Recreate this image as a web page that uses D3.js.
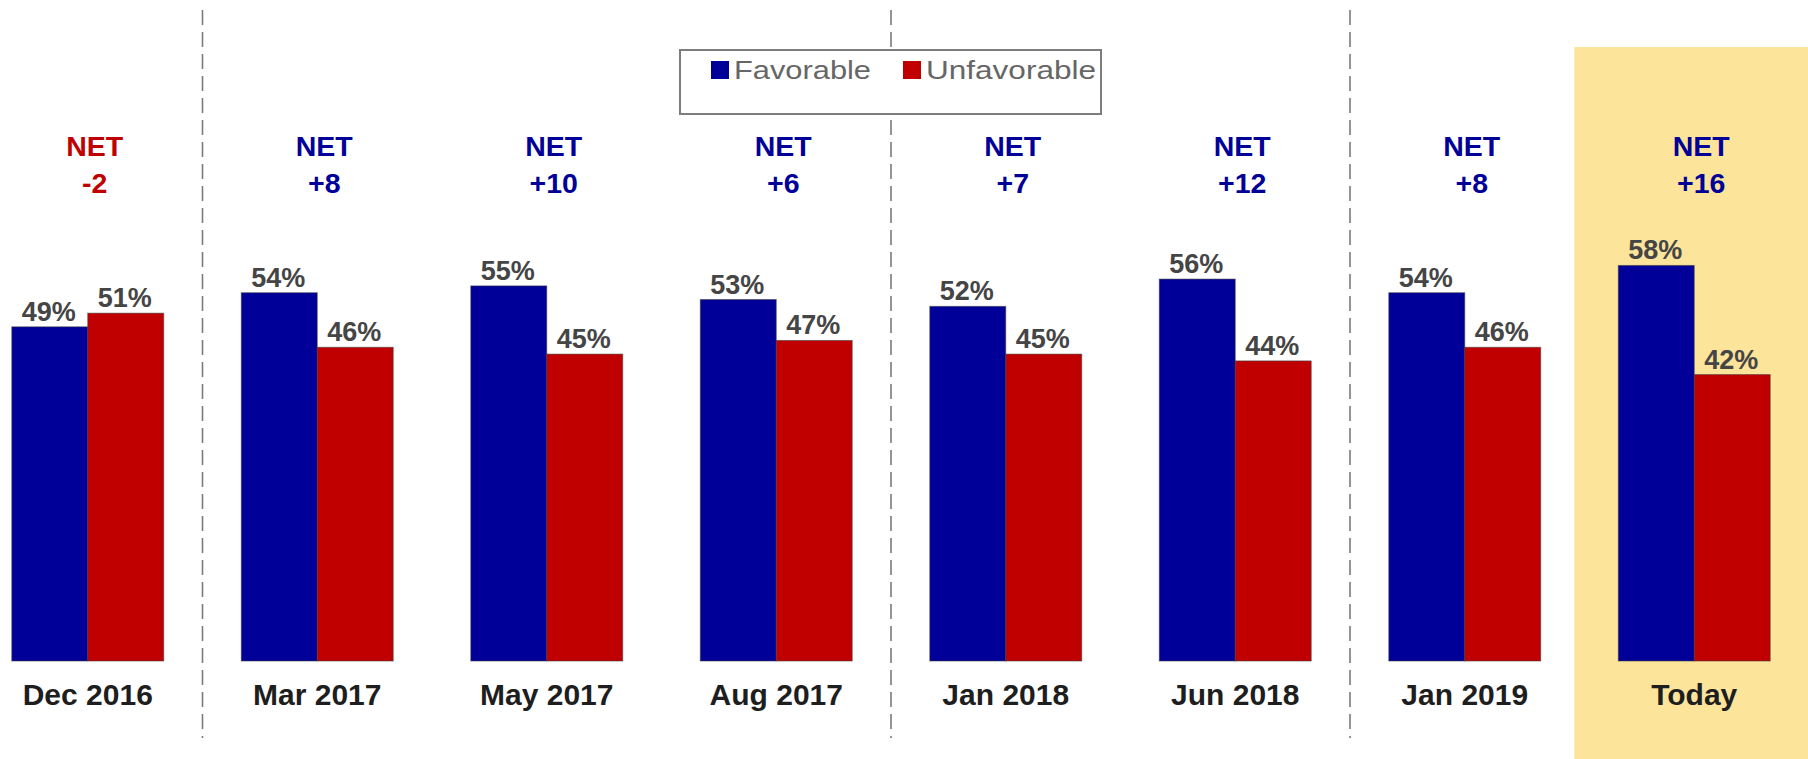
<!DOCTYPE html>
<html>
<head>
<meta charset="utf-8">
<script src="https://cdn.jsdelivr.net/npm/d3@7"></script>
<style>
  html, body { margin: 0; padding: 0; background: #fff; }
  svg { display: block; font-family: "Liberation Sans", Arial, sans-serif; }
</style>
</head>
<body>
<div id="chart"></div>
<script>
(function (d3) {
    'use strict';

    // data
    var periods = ["Dec 2016", "Mar 2017", "May 2017", "Aug 2017", "Jan 2018", "Jun 2018", "Jan 2019", "Today"];
    var series = ["Favorable", "Unfavorable"];
    var favorable = [49, 54, 55, 53, 52, 56, 54, 58];
    var unfavorable = [51, 46, 45, 47, 45, 44, 46, 42];
    var dividersAfter = ["Dec 2016", "Aug 2017", "Jun 2018"];
    var highlighted = "Today";

    var svgWidth = 1808;
    var svgHeight = 759;
    var blue = "#000099";
    var red = "#c00000";

    var rows = periods.map(function (p, i) {
        return { period: p, Favorable: favorable[i], Unfavorable: unfavorable[i] };
    });

    var svg = d3.select("#chart")
        .append("svg")
        .attr("width", svgWidth)
        .attr("height", svgHeight);

    // scales
    var x0 = d3.scaleBand()
        .domain(periods)
        .range([-27, 1809])
        .paddingInner(0.338)
        .paddingOuter(0.169);

    var x1 = d3.scaleBand()
        .domain(series)
        .range([0, x0.bandwidth()]);

    var y = d3.scaleLinear()
        .domain([0, 100])
        .range([661, -21]);

    var color = d3.scaleOrdinal()
        .domain(series)
        .range([blue, red]);

    var gap = x0.step() - x0.bandwidth();

    // highlight for the latest period
    svg.append("rect")
        .attr("x", x0(highlighted) - 44)
        .attr("y", 47)
        .attr("width", svgWidth - (x0(highlighted) - 44))
        .attr("height", svgHeight - 47)
        .attr("fill", "#fde49b");

    // dashed dividers
    svg.selectAll(".divider")
        .data(dividersAfter)
        .enter()
        .append("line")
        .attr("class", "divider")
        .attr("x1", function (d) { return x0(d) + x0.bandwidth() + gap / 2; })
        .attr("x2", function (d) { return x0(d) + x0.bandwidth() + gap / 2; })
        .attr("y1", 10)
        .attr("y2", 738)
        .attr("stroke", "#7a7a7a")
        .attr("stroke-width", 1.6)
        .attr("stroke-dasharray", "15,7");

    // bars
    var groups = svg.selectAll(".group")
        .data(rows)
        .enter()
        .append("g")
        .attr("class", "group")
        .attr("transform", function (d) { return "translate(" + x0(d.period) + ",0)"; });

    groups.selectAll("rect")
        .data(function (d) { return series.map(function (s) { return { key: s, value: d[s] }; }); })
        .enter()
        .append("rect")
        .attr("x", function (d) { return x1(d.key); })
        .attr("y", function (d) { return y(d.value); })
        .attr("width", x1.bandwidth())
        .attr("height", function (d) { return y(0) - y(d.value); })
        .attr("fill", function (d) { return color(d.key); })
        .attr("stroke", "#3a3a3a")
        .attr("stroke-opacity", 0.55)
        .attr("stroke-width", 1);

    groups.selectAll(".val")
        .data(function (d) { return series.map(function (s) { return { key: s, value: d[s] }; }); })
        .enter()
        .append("text")
        .attr("class", "val")
        .attr("x", function (d) { return x1(d.key) + x1.bandwidth() / 2 - 1; })
        .attr("y", function (d) { return y(d.value) - 6; })
        .attr("text-anchor", "middle")
        .attr("font-size", 27)
        .attr("font-weight", "bold")
        .attr("fill", "#454545")
        .text(function (d) { return d.value + "%"; });

    // NET labels (sit a little right of the group centre in the original)
    var net = groups.append("text")
        .attr("text-anchor", "middle")
        .attr("font-size", 28.5)
        .attr("font-weight", "bold")
        .attr("fill", function (d) { return d.Favorable - d.Unfavorable < 0 ? red : blue; });

    net.append("tspan")
        .attr("x", x0.bandwidth() / 2 + 7)
        .attr("y", 156)
        .text("NET");

    net.append("tspan")
        .attr("x", x0.bandwidth() / 2 + 7)
        .attr("y", 193)
        .text(function (d) {
            var v = d.Favorable - d.Unfavorable;
            return (v > 0 ? "+" : "") + v;
        });

    // category axis
    var xAxis = svg.append("g")
        .attr("transform", "translate(0," + 661 + ")")
        .call(d3.axisBottom(x0).tickSize(0).tickPadding(44));

    xAxis.select(".domain").remove();
    xAxis.selectAll("text")
        .attr("font-family", "Liberation Sans, Arial, sans-serif")
        .attr("font-size", 30)
        .attr("font-weight", "bold")
        .attr("fill", "#1e1e1e")
        .attr("dy", 0);

    // legend
    var legend = svg.append("g")
        .attr("transform", "translate(680,50)");

    legend.append("rect")
        .attr("width", 421)
        .attr("height", 64)
        .attr("fill", "#fff")
        .attr("stroke", "#7d7d7d")
        .attr("stroke-width", 2);

    var legendX = [31, 223];
    var legendW = [137, 170];

    var item = legend.selectAll(".item")
        .data(series)
        .enter()
        .append("g")
        .attr("class", "item")
        .attr("transform", function (d, i) { return "translate(" + legendX[i] + ",11)"; });

    item.append("rect")
        .attr("width", 18)
        .attr("height", 18)
        .attr("fill", function (d) { return color(d); });

    item.append("text")
        .attr("x", 23)
        .attr("y", 18)
        .attr("font-size", 26)
        .attr("fill", "#666")
        .attr("textLength", function (d, i) { return legendW[i]; })
        .attr("lengthAdjust", "spacingAndGlyphs")
        .text(function (d) { return d; });

})(window.d3);
</script>
</body>
</html>
